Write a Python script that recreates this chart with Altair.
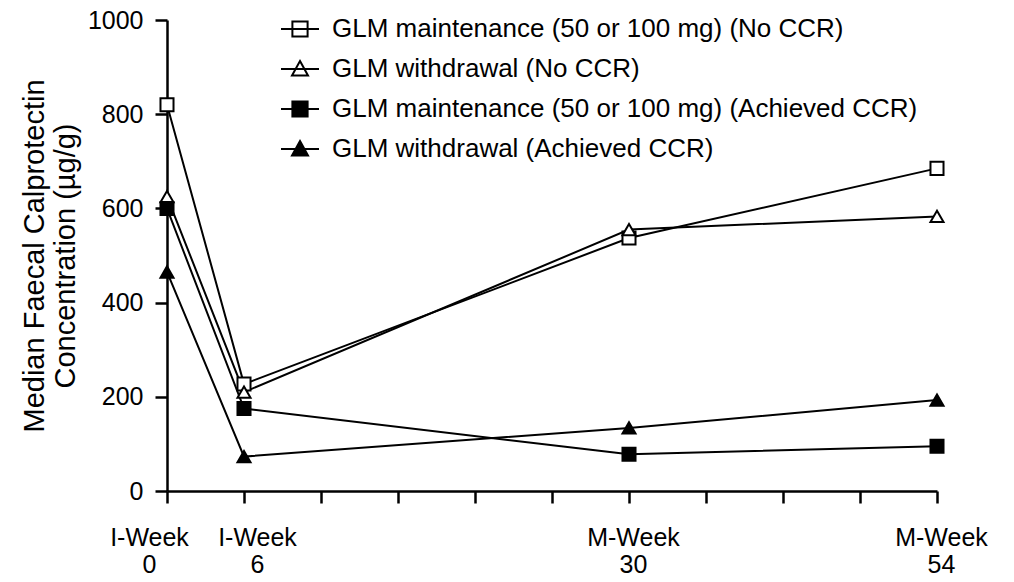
import json
import altair as alt
import pandas as pd

# ---- data -------------------------------------------------------------
series = [
    "GLM maintenance (50 or 100 mg) (No CCR)",
    "GLM withdrawal (No CCR)",
    "GLM maintenance (50 or 100 mg) (Achieved CCR)",
    "GLM withdrawal (Achieved CCR)",
]
x_pos = [0, 1, 6, 10]          # axis slots of the four visits
x_tick_labels = [["I-Week", "0"], ["I-Week", "6"], ["M-Week", "30"], ["M-Week", "54"]]
maint_no_ccr = [820, 227, 537, 685]
withdr_no_ccr = [625, 210, 555, 583]
maint_ccr = [600, 175, 78, 95]
withdr_ccr = [465, 73, 134, 193]
y_ticks = [0, 200, 400, 600, 800, 1000]

values = [maint_no_ccr, withdr_no_ccr, maint_ccr, withdr_ccr]
rows = []
for s, vals in zip(series, values):
    for xp, v in zip(x_pos, vals):
        rows.append({"series": s, "x": xp, "y": v})
df = pd.DataFrame(rows)

# ---- styling ------------------------------------------------------------
FONT = "Liberation Sans"
AXIS_FS = 25
TITLE_FS = 29
LEG_FS = 26
marker_shapes = ["square", "triangle-up", "square", "triangle-up"]
marker_fills = ["white", "white", "black", "black"]

label_expr = ""
for p, lbl in zip(x_pos, x_tick_labels):
    label_expr += f"datum.value == {p} ? {json.dumps(lbl)} : "
label_expr += "''"

x_enc = alt.X(
    "x:Q",
    scale=alt.Scale(domain=[0, 10], nice=False, zero=False),
    axis=alt.Axis(
        title=None,
        values=list(range(0, 11)),
        labelExpr=label_expr,
        labelFlush=False,
        labelOverlap=False,
        labelLineHeight=27,
        labelPadding=22,
        labelBaseline="top",
        labelOffset={
            "condition": [
                {"test": "datum.value == 0", "value": -18},
                {"test": "datum.value == 1", "value": 13},
            ],
            "value": 4,
        },
        grid=False,
    ),
)
y_enc = alt.Y(
    "y:Q",
    scale=alt.Scale(domain=[0, 1000], nice=False),
    axis=alt.Axis(
        title=["Median Faecal Calprotectin", "Concentration (µg/g)"],
        values=y_ticks,
        format="d",
        grid=False,
        labelPadding=12,
        titlePadding=7,
        titleLineHeight=31,
    ),
)

lines = alt.Chart(df).mark_line(color="black", strokeWidth=2).encode(
    x=x_enc, y=y_enc, detail="series:N"
)

marker_layers = []
for s, shp, fc in zip(series, marker_shapes, marker_fills):
    marker_layers.append(
        alt.Chart(df)
        .transform_filter(alt.datum.series == s)
        .mark_point(shape=shp, fill=fc, stroke="black", strokeWidth=2,
                    opacity=1, fillOpacity=1, size=170)
        .encode(x=x_enc, y=y_enc)
    )

path_sq = "M-1,0H1M-0.4,-0.4H0.4V0.4H-0.4Z"
path_tri = "M-1,0H1M0,-0.42L0.42,0.34L-0.42,0.34Z"
legend_paths = [path_sq, path_tri, path_sq, path_tri]

legend = alt.Legend(
    title=None,
    orient="none",
    legendX=113,
    legendY=-11,
    labelFont=FONT,
    labelFontSize=LEG_FS,
    labelColor="black",
    labelOffset=12,
    labelLimit=800,
    symbolSize=1444,
    symbolStrokeWidth=2,
    symbolStrokeColor="black",
    rowPadding=7,
    padding=0,
)

legend_layer = alt.Chart(df).mark_point(
    stroke="black", strokeWidth=2, opacity=1
).encode(
    x=x_enc,
    y=y_enc,
    shape=alt.Shape("series:N", scale=alt.Scale(domain=series, range=legend_paths), legend=legend),
    fill=alt.Fill("series:N", scale=alt.Scale(domain=series, range=marker_fills), legend=legend),
    stroke=alt.Stroke("series:N", scale=alt.Scale(domain=series, range=["black"] * 4), legend=legend),
).transform_filter("false")

chart = (
    alt.layer(lines, *marker_layers, legend_layer)
    .properties(
        width=770,
        height=471,
        autosize=alt.AutoSizeParams(type="none"),
        padding={"left": 167, "top": 20, "right": 77, "bottom": 91},
        background="white",
    )
    .configure_view(strokeWidth=0)
    .configure_axis(
        domainColor="black",
        domainWidth=2.5,
        tickColor="black",
        tickWidth=2.5,
        tickSize=12,
        labelFont=FONT,
        labelFontSize=AXIS_FS,
        labelColor="black",
        titleFont=FONT,
        titleFontSize=TITLE_FS,
        titleFontWeight="normal",
        titleColor="black",
    )
)

chart.save("out.html", embed_options={"renderer": "svg", "actions": False})
